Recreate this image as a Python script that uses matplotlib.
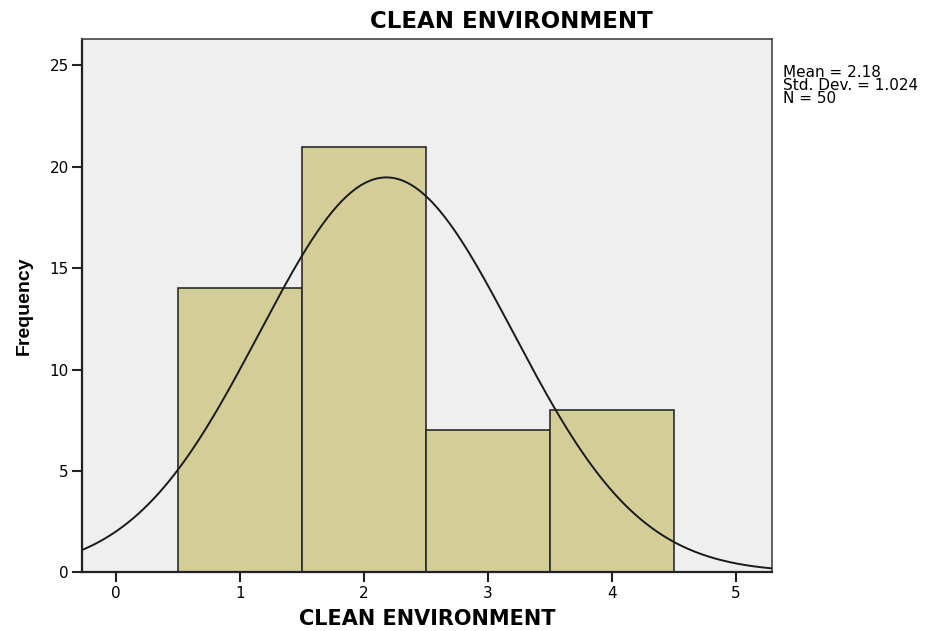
import numpy as np
import matplotlib.pyplot as plt

# histogram of the CLEAN ENVIRONMENT scores
scores = [1, 2, 3, 4]
counts = [14, 21, 7, 8]
mean = 2.18
std_dev = 1.024
n = 50

plt.rcParams['font.family'] = ['DejaVu Sans']

fig = plt.figure(figsize=(9.26, 6.31), dpi=100)
ax = fig.add_axes([0.0886, 0.093, 0.745, 0.845])
ax.set_facecolor('#efefef')

ax.bar(scores, counts, width=1.0, color='#d3ce98', edgecolor='#2b2b2b', linewidth=1.2, zorder=2)

# normal curve scaled to counts (bin width 1)
x = np.linspace(-0.3, 5.3, 400)
y = n * np.exp(-0.5 * ((x - mean) / std_dev) ** 2) / (std_dev * np.sqrt(2 * np.pi))
ax.plot(x, y, color='#1a1a1a', linewidth=1.4, zorder=3)

ax.set_xlim(-0.275, 5.29)
ax.set_ylim(0, 26.3)
ax.set_xticks(range(0, 6))
ax.set_yticks(range(0, 26, 5))
ax.tick_params(direction='out', length=7.5, width=1.5, pad=2, labelsize=11, color='#222222')
for s in ax.spines.values():
    s.set_color('#444444')
    s.set_linewidth(1.2)
ax.spines['left'].set_linewidth(1.6)
ax.spines['bottom'].set_linewidth(1.6)
ax.spines['left'].set_color('#222222')
ax.spines['bottom'].set_color('#222222')

ax.set_xlabel('CLEAN ENVIRONMENT', fontsize=15, fontweight='bold', labelpad=6)
ax.set_ylabel('Frequency', fontsize=14, fontweight='bold', labelpad=12,
              family='Liberation Sans')
fig.text(511 / 926, 1 - 21 / 631, 'CLEAN ENVIRONMENT', fontsize=16.5, fontweight='bold',
         ha='center', va='center')

fig.text(783 / 926, 1 - 65 / 631,
         'Mean = %.2f\nStd. Dev. = %.3f\nN = %d' % (mean, std_dev, n),
         fontsize=11, ha='left', va='top', linespacing=0.85)

fig.savefig('out.png', dpi=100)
